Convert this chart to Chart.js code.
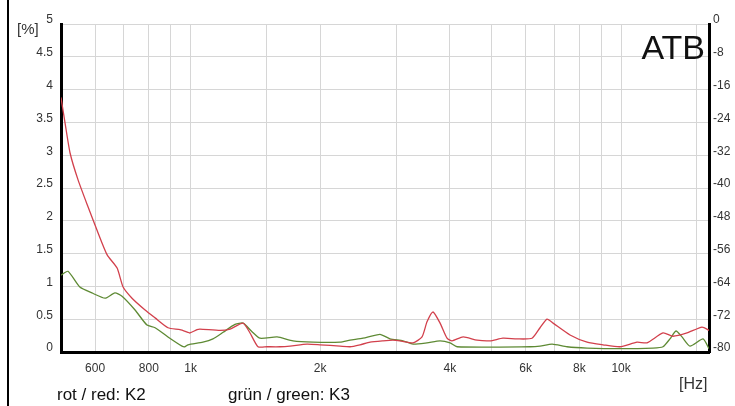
<!DOCTYPE html>
<html>
<head>
<meta charset="utf-8">
<script src="https://cdn.jsdelivr.net/npm/chart.js@4"></script>
<style>
  html, body { margin:0; padding:0; background:#fff; }
  #wrap { position:relative; width:735px; height:406px; overflow:hidden; font-family:"Liberation Sans", Arial, sans-serif; }
  #frame { position:absolute; left:7px; top:0; width:2px; height:406px; background:#000; }
  .txt { position:absolute; white-space:nowrap; color:#111; }
</style>
</head>
<body>
<div id="wrap">
  <canvas id="chart" width="735" height="406"></canvas>
  <div id="frame"></div>
  <div class="txt" style="left:17px; top:20px; font-size:15px; color:#333;">[%]</div>
  <div class="txt" style="right:30px; top:27px; font-size:34px; line-height:40px;">ATB</div>
  <div class="txt" style="left:679px; top:375px; font-size:16px; color:#333;">[Hz]</div>
  <div class="txt" style="left:57px; top:385px; font-size:17px;">rot / red: K2</div>
  <div class="txt" style="left:228px; top:385px; font-size:17px;">grün / green: K3</div>
</div>
<script>
// K2 (red) - frequency in Hz, distortion in %
const redFreq = [500, 511, 525, 548, 578, 606, 640, 675, 697, 731, 784, 827, 886, 945, 986, 997, 1035, 1051, 1171, 1235, 1324, 1374, 1434, 1505, 1613, 1702, 1864, 1998, 2224, 2346, 2475, 2611, 2799, 2952, 3065, 3286, 3448, 3541, 3657, 3797, 3941, 4049, 4294, 4628, 4960, 5316, 5730, 6210, 6482, 6729, 6949, 7609, 8337, 9079, 9944, 10889, 11485, 12509, 13198, 14224, 15417, 16000];
const redVals = [3.88, 3.49, 3.03, 2.62, 2.21, 1.86, 1.48, 1.28, 0.99, 0.82, 0.64, 0.52, 0.37, 0.34, 0.30, 0.29, 0.34, 0.35, 0.33, 0.35, 0.44, 0.29, 0.08, 0.08, 0.08, 0.09, 0.12, 0.11, 0.09, 0.08, 0.11, 0.15, 0.17, 0.18, 0.17, 0.14, 0.23, 0.46, 0.61, 0.44, 0.21, 0.17, 0.23, 0.18, 0.17, 0.21, 0.20, 0.21, 0.37, 0.50, 0.44, 0.26, 0.15, 0.11, 0.08, 0.15, 0.14, 0.29, 0.24, 0.29, 0.38, 0.33];

// K3 (green)
const greenFreq = [500, 519, 553, 590, 633, 667, 693, 743, 792, 827, 886, 955, 970, 986, 1068, 1127, 1190, 1268, 1324, 1389, 1450, 1588, 1729, 1925, 2224, 2346, 2515, 2754, 2905, 3114, 3286, 3541, 3797, 4006, 4159, 6144, 6482, 6912, 7489, 8337, 9944, 11858, 12509, 12986, 13411, 13848, 14454, 15497, 16000];
const greenVals = [1.17, 1.23, 0.99, 0.90, 0.82, 0.90, 0.85, 0.64, 0.41, 0.37, 0.23, 0.09, 0.08, 0.11, 0.15, 0.20, 0.30, 0.42, 0.44, 0.31, 0.21, 0.23, 0.17, 0.15, 0.15, 0.18, 0.21, 0.27, 0.20, 0.17, 0.12, 0.14, 0.17, 0.14, 0.08, 0.08, 0.09, 0.12, 0.08, 0.06, 0.05, 0.06, 0.08, 0.20, 0.32, 0.23, 0.09, 0.20, 0.05];

const xGridLines = [600, 700, 800, 900, 1000, 1500, 2000, 3000, 4000, 5000, 6000, 7000, 8000, 9000, 10000, 15000];
const xTickLabels = { 600:'600', 800:'800', 1000:'1k', 2000:'2k', 4000:'4k', 6000:'6k', 8000:'8k', 10000:'10k' };

const gridColor = '#d6d6d6';
const tickFont = { family:'"Liberation Sans", Arial, sans-serif', size:12 };

new Chart(document.getElementById('chart'), {
  type: 'line',
  data: {
    datasets: [
      { label:'K2', data: redFreq.map((f,i)=>({x:f, y:redVals[i]})), borderColor:'#d2404c', borderWidth:1.3, pointRadius:0, tension:0.2, fill:false },
      { label:'K3', data: greenFreq.map((f,i)=>({x:f, y:greenVals[i]})), borderColor:'#5e8a34', borderWidth:1.3, pointRadius:0, tension:0.2, fill:false }
    ]
  },
  options: {
    responsive:false,
    animation:false,
    layout:{ padding:{ top:24, left:0, right:0, bottom:0 } },
    plugins:{ legend:{ display:false }, tooltip:{ enabled:false } },
    scales:{
      x:{
        type:'logarithmic', min:500, max:16000,
        afterBuildTicks: s => { s.ticks = xGridLines.map(v=>({value:v})); },
        afterFit: s => { s.height = 54; },
        grid:{ color:gridColor, lineWidth:1, drawTicks:false },
        border:{ color:'#000', width:3 },
        ticks:{ autoSkip:false, maxRotation:0, padding:9, color:'#333', font:tickFont,
          callback: v => xTickLabels[v] || '' }
      },
      y:{
        position:'left', min:0, max:5,
        afterFit: s => { s.width = 61; },
        grid:{ color:gridColor, lineWidth:1, drawTicks:false },
        border:{ color:'#000', width:3 },
        ticks:{ stepSize:0.5, padding:8, labelOffset:-4, color:'#333', font:tickFont,
          callback: v => String(Math.round(v * 10) / 10) }
      },
      y2:{
        position:'right', min:-80, max:0,
        afterFit: s => { s.width = 26; },
        grid:{ drawOnChartArea:false, drawTicks:false },
        border:{ color:'#000', width:3 },
        ticks:{ stepSize:8, padding:4, labelOffset:-4, color:'#333', font:tickFont }
      }
    }
  }
});
</script>
</body>
</html>
